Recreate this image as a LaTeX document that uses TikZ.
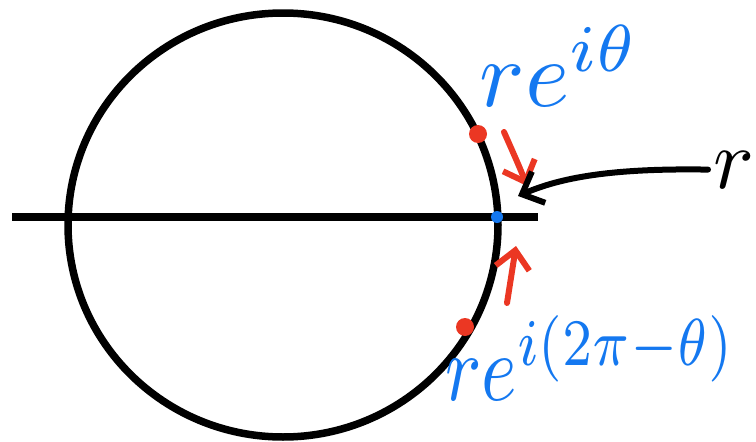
\documentclass[tikz,border=0pt]{standalone}
\usetikzlibrary{arrows.meta,positioning}
\definecolor{penblue}{RGB}{20,120,240}
\definecolor{penred}{RGB}{235,55,35}

\begin{document}
\begin{tikzpicture}[x=1pt,y=-1pt,
        dot/.style={circle, inner sep=0pt, minimum size=#1},
        lbl/.style={inner sep=0pt, anchor=base west, scale=9.5},
        arr/.style={-{Straight Barb[length=18pt,width=34pt]}, line width=6pt, line cap=round}
      ]
        \useasboundingbox (0,0) rectangle (756,442);
        \draw[line width=7.5pt] (283,225) ellipse [x radius=215, y radius=212];
        \draw[line width=7.5pt] (12,217) -- (538,217);
        \node[dot=12pt, fill=penblue] (z) at (497,217) {};
        \node[dot=18pt, fill=penred] (p) at (478,134) {};
        \node[dot=18pt, fill=penred] (q) at (465,327) {};
        \node[lbl, text=penblue] (lp) at (478,106) {$re^{i\theta}$};
        \node[lbl, text=penblue, xscale=0.8] (lq) at (444,400) {$re^{i(2\pi-\theta)}$};
        \node[lbl, scale=0.9] (lr) at (712,188) {$r$};
        \coordinate (ps) at (504,132);
        \coordinate (pe) at (527,186);
        \coordinate (qs) at (507,303);
        \coordinate (qe) at (516,246);
        \coordinate (re) at (518,196);
        \draw[arr, penred] (ps) .. controls (512,150) and (520,168) .. (pe);
        \draw[arr, penred] (qs) -- (qe);
        \draw[arr] ([xshift=-4pt]lr.west) .. controls (610,168) and (560,178) .. (re);
      \end{tikzpicture}
\end{document}
